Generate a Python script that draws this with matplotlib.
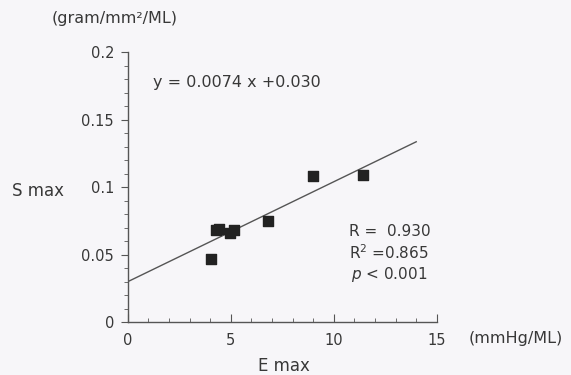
import matplotlib
matplotlib.use("Agg")
import matplotlib.pyplot as plt
from matplotlib.ticker import MultipleLocator
import numpy as np

# data
e_max = [4.05, 4.3, 4.4, 4.95, 5.15, 6.8, 9.0, 11.4]
s_max = [0.047, 0.068, 0.069, 0.066, 0.068, 0.075, 0.108, 0.109]
slope = 0.0074
intercept = 0.030
fit_x = [0.0, 14.0]

x_ticks = [0, 5, 10, 15]
x_ticklabels = ["0", "5", "10", "15"]
y_ticks = [0, 0.05, 0.1, 0.15, 0.2]
y_ticklabels = ["0", "0.05", "0.1", "0.15", "0.2"]

bg = "#f7f6f9"
ink = "#383838"
axc = "#555555"

plt.rcParams["font.family"] = ["DejaVu Sans"]
fig = plt.figure(figsize=(5.71, 3.75), dpi=100, facecolor=bg)
ax = fig.add_axes([0.224, 0.141, 0.541, 0.72], facecolor=bg)

fx = np.array(fit_x)
ax.plot(fx, slope * fx + intercept, color=axc, lw=1.0)
ax.scatter(e_max, s_max, marker="s", s=62, color="#222222", zorder=3)

ax.set_xlim(0, 15)
ax.set_ylim(0, 0.2)
ax.xaxis.set_minor_locator(MultipleLocator(1))
ax.yaxis.set_minor_locator(MultipleLocator(0.01))
ax.set_xticks(x_ticks)
ax.set_xticklabels(x_ticklabels)
ax.set_yticks(y_ticks)
ax.set_yticklabels(y_ticklabels)

for s in ["top", "right"]:
    ax.spines[s].set_visible(False)
for s in ["left", "bottom"]:
    ax.spines[s].set_color(axc)
    ax.spines[s].set_linewidth(1.0)

ax.tick_params(axis="x", which="major", direction="in", length=6, color=axc,
               labelsize=10.5, labelcolor=ink, pad=8)
ax.tick_params(axis="x", which="minor", direction="in", length=3, color=axc)
ax.tick_params(axis="y", which="major", direction="out", length=5, color=axc,
               labelsize=10.5, labelcolor=ink, pad=5)
ax.tick_params(axis="y", which="minor", direction="out", length=3, color=axc)

fig.text(0.091, 0.952, "(gram/mm²/ML)", fontsize=11.5, color=ink, ha="left", va="center")
fig.text(0.268, 0.781, "y = 0.0074 x +0.030", fontsize=11.5, color=ink, ha="left", va="center")
fig.text(0.067, 0.491, "S max", fontsize=12, color=ink, ha="center", va="center")
fig.text(0.497, 0.024, "E max", fontsize=12, color=ink, ha="center", va="center")
fig.text(0.820, 0.096, "(mmHg/ML)", fontsize=11.5, color=ink, ha="left", va="center")
fig.text(0.611, 0.384, "R =  0.930", fontsize=11, color=ink, ha="left", va="center")
fig.text(0.611, 0.325, "R$^2$ =0.865", fontsize=11, color=ink, ha="left", va="center")
fig.text(0.614, 0.269, "$p$ < 0.001", fontsize=11, color=ink, ha="left", va="center")

fig.savefig("out.png", dpi=100, facecolor=bg)
